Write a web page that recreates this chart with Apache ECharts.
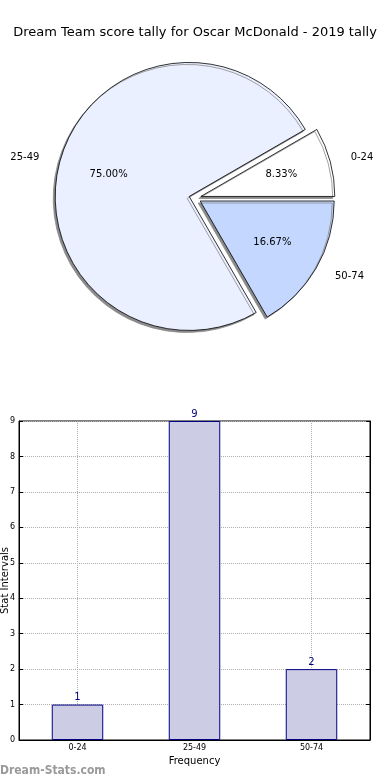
<!DOCTYPE html>
<html><head><meta charset="utf-8">
<script src="https://cdn.jsdelivr.net/npm/echarts@6/dist/echarts.min.js"></script>
<style>html,body{margin:0;padding:0;background:#fff}#c{width:390px;height:780px}</style>
</head><body><div id="c"></div>
<script>
const titleText = 'Dream Team score tally for Oscar McDonald - 2019 tally';
const categories = ['0-24', '25-49', '50-74'];
const counts = [1, 9, 2];
const sliceColors = ['#ffffff', '#eaf0ff', '#c4d8ff'];
const xAxisName = 'Frequency';
const yAxisName = 'Stat Intervals';
const watermark = 'Dream-Stats.com';

const FONT = 'DejaVu Sans';
const PIE_R = 134;
const PIE_C = [195, 198];
const OFFSET = 6;

const pieData = categories.map((n, i) => ({
  name: n, value: counts[i], selected: true,
  itemStyle: { color: sliceColors[i] }
}));
const pctData = categories.map((n, i) => ({ name: n, value: counts[i], selected: true }));

const chart = echarts.init(document.getElementById('c'), null, { renderer: 'canvas' });
chart.setOption({
  animation: false,
  backgroundColor: '#fff',
  textStyle: { fontFamily: FONT },
  title: {
    text: titleText, left: 'center', top: 21,
    textStyle: { fontFamily: FONT, fontSize: 13, fontWeight: 'normal', color: '#000' }
  },
  graphic: [{
    type: 'text', left: 0, top: 765,
    style: { text: watermark, fill: '#9a9a9a', font: 'bold 12px "DejaVu Sans Condensed", "DejaVu Sans"' }
  }],
  grid: {
    left: 19, right: 20, top: 421, bottom: 40,
    containLabel: false, outerBoundsMode: 'none',
    show: true, borderColor: '#000', borderWidth: 1, backgroundColor: '#fff'
  },
  xAxis: {
    type: 'category', data: categories,
    axisLine: { lineStyle: { color: '#000', width: 1 } },
    axisTick: { inside: true, alignWithLabel: true, length: 4, lineStyle: { color: '#000' } },
    axisLabel: { fontFamily: FONT, fontSize: 8, color: '#000', margin: 4 },
    splitLine: { show: true, alignWithLabel: true, lineStyle: { type: 'dotted', color: '#b0b0b0' } },
    name: xAxisName, nameLocation: 'middle', nameGap: 16, nameMoveOverlap: false,
    nameTextStyle: { fontFamily: FONT, fontSize: 10, color: '#000' }
  },
  yAxis: [{
    type: 'value', min: 0, max: 9, interval: 1,
    axisLine: { show: true, lineStyle: { color: '#000', width: 1 } },
    axisTick: { show: true, inside: true, length: 4, lineStyle: { color: '#000' } },
    axisLabel: { fontFamily: FONT, fontSize: 8, color: '#000', margin: 4 },
    splitLine: { show: true, lineStyle: { type: 'dotted', color: '#b0b0b0' } },
    name: yAxisName, nameLocation: 'middle', nameGap: 9, nameMoveOverlap: false,
    nameTextStyle: { fontFamily: FONT, fontSize: 10, color: '#000' }
  }, {
    type: 'value', min: 0, max: 9, interval: 1, position: 'right',
    axisLine: { show: true, lineStyle: { color: '#000', width: 1 } },
    axisTick: { show: true, inside: true, length: 4, lineStyle: { color: '#000' } },
    axisLabel: { show: false }, splitLine: { show: false }
  }],
  series: [
    {
      type: 'pie', center: PIE_C, radius: PIE_R,
      startAngle: 0, clockwise: false,
      selectedMode: 'multiple', selectedOffset: OFFSET,
      silent: true,
      data: pieData,
      itemStyle: {
        borderColor: '#000', borderWidth: 0.8,
        shadowColor: '#8a8a8a', shadowBlur: 0, shadowOffsetX: -2, shadowOffsetY: 2
      },
      label: {
        show: true, position: 'outside', fontFamily: FONT, fontSize: 10, color: '#000',
        formatter: '{b}', distanceToLabelLine: 4
      },
      labelLine: { show: false, length: 17, length2: 0 },
      emphasis: { disabled: true }
    },
    {
      type: 'pie', center: PIE_C, radius: PIE_R * 1.2,
      startAngle: 0, clockwise: false,
      selectedMode: 'multiple', selectedOffset: OFFSET,
      silent: true,
      data: pctData,
      itemStyle: { color: 'rgba(0,0,0,0)', borderWidth: 0 },
      label: {
        show: true, position: 'inside', fontFamily: FONT, fontSize: 10, color: '#000',
        formatter: p => p.percent.toFixed(2) + '%'
      },
      labelLine: { show: false },
      emphasis: { disabled: true }
    },
    {
      type: 'bar', data: counts, barWidth: '44%',
      itemStyle: { color: '#ccccE4', borderColor: '#000080', borderWidth: 1 },
      label: { show: true, position: 'top', distance: 2, fontFamily: FONT, fontSize: 10, color: '#000080' },
      silent: true
    }
  ]
});
</script>
</body></html>
